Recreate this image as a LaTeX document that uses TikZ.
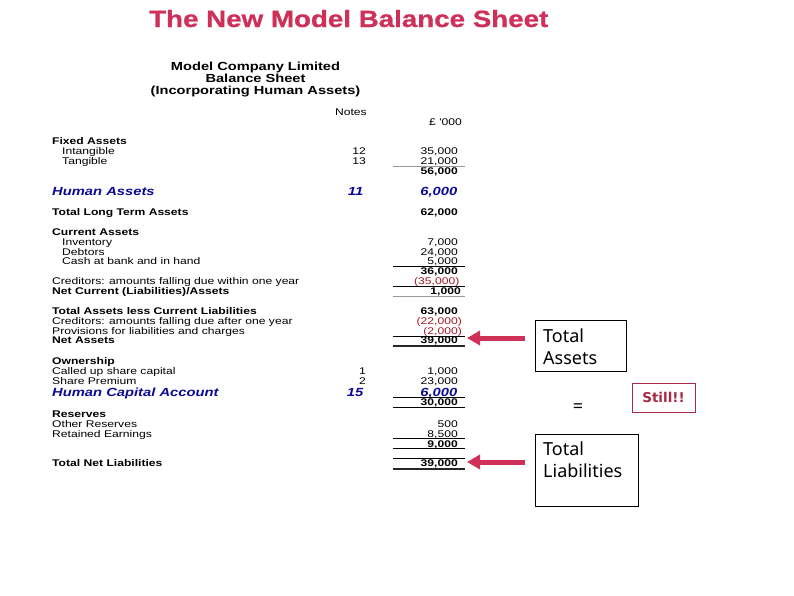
\documentclass[tikz,border=0pt]{standalone}
\usepackage{fontspec}
\setmainfont{Liberation Sans}
\newfontfamily\sheetfont[FakeStretch=1.25]{Liberation Sans}
\newfontfamily\titlefont[FakeStretch=1.18,BoldFeatures={FakeBold=0.8}]{Liberation Sans}
\newfontfamily\boxfont{Noto Sans}
\newfontfamily\stillfont{DejaVu Sans}
\definecolor{crimson}{RGB}{206,48,88}
\definecolor{navyblue}{RGB}{10,10,150}
\definecolor{negred}{RGB}{165,25,40}
\definecolor{stillred}{RGB}{170,40,70}
\tikzset{
  cell/.style={inner sep=0pt,font=\sheetfont\fontsize{9.7}{11}\selectfont,text=black},
  lefttext/.style={cell,anchor=base west},
  righttext/.style={cell,anchor=base east},
  heavy/.style={font=\sheetfont\bfseries\fontsize{9.7}{11}\selectfont},
  human/.style={font=\sheetfont\bfseries\itshape\fontsize{11.8}{13}\selectfont,text=navyblue},
  neg/.style={text=negred},
  rulethin/.style={draw=black,line width=0.8pt},
  rulegray/.style={draw=gray!80,line width=0.8pt},
  rulethick/.style={draw=black!85,line width=1.5pt},
  callout/.style={draw=black,line width=0.8pt,anchor=north west,inner sep=0pt},
  boxtext/.style={inner sep=0pt,anchor=base west,font=\boxfont\fontsize{18}{21}\selectfont},
  pointer/.style={draw=crimson,line width=5pt,-{Triangle[length=13pt,width=14pt]}},
}
\usetikzlibrary{arrows.meta}
\begin{document}
\begin{tikzpicture}[x=1pt,y=-1pt]
\useasboundingbox (0,0) rectangle (794,595);
\node[inner sep=0pt,anchor=base west,text=crimson,font=\titlefont\bfseries\fontsize{23.5}{26}\selectfont] (title) at (149,27) {The New Model Balance Sheet};
\node[cell,align=center,anchor=north,font=\sheetfont\bfseries\fontsize{11.7}{12.1}\selectfont] (heading) at (255.5,61.5) {Model Company Limited\\Balance Sheet\\(Incorporating Human Assets)};
\node[righttext] (notes) at (367,115) {Notes};
\node[righttext] (unit) at (462,125) {£ '000};
% left column
\node[lefttext,heavy] (l1) at (52,144.5) {Fixed Assets};
\node[lefttext] (l2) at (62,154.5) {Intangible};
\node[lefttext] (l3) at (62,164.5) {Tangible};
\node[lefttext,human] (l4) at (52,195.5) {Human Assets};
\node[lefttext,heavy] (l5) at (52,215.5) {Total Long Term Assets};
\node[lefttext,heavy] (l6) at (52,235.5) {Current Assets};
\node[lefttext] (l7) at (62,245) {Inventory};
\node[lefttext] (l8) at (62,255) {Debtors};
\node[lefttext] (l9) at (62,264.5) {Cash at bank and in hand};
\node[lefttext] (l10) at (52,284.5) {Creditors: amounts falling due within one year};
\node[lefttext,heavy] (l11) at (52,294.5) {Net Current (Liabilities)/Assets};
\node[lefttext,heavy] (l12) at (52,314.5) {Total Assets less Current Liabilities};
\node[lefttext] (l13) at (52,324) {Creditors: amounts falling due after one year};
\node[lefttext] (l14) at (52,334) {Provisions for liabilities and charges};
\node[lefttext,heavy] (l15) at (52,343.5) {Net Assets};
\node[lefttext,heavy] (l16) at (52,364.5) {Ownership};
\node[lefttext] (l17) at (52,374.5) {Called up share capital};
\node[lefttext] (l18) at (52,384.5) {Share Premium};
\node[lefttext,human] (l19) at (52,396) {Human Capital Account};
\node[lefttext,heavy] (l20) at (52,417) {Reserves};
\node[lefttext] (l21) at (52,427.5) {Other Reserves};
\node[lefttext] (l22) at (52,437) {Retained Earnings};
\node[lefttext,heavy] (l23) at (52,466.5) {Total Net Liabilities};
% notes column
\node[righttext] (n1) at (366,154.5) {12};
\node[righttext] (n2) at (366,164.5) {13};
\node[righttext,human] (n3) at (363.5,195.5) {11};
\node[righttext] (n4) at (366,374.5) {1};
\node[righttext] (n5) at (366,384.5) {2};
\node[righttext,human] (n6) at (363.5,396) {15};
% amounts column
\node[righttext] (a1) at (458,154.5) {35,000};
\node[righttext] (a2) at (458,164.5) {21,000};
\node[righttext,heavy] (a3) at (458,174.5) {56,000};
\node[righttext,human] (a4) at (457.5,195.5) {6,000};
\node[righttext,heavy] (a5) at (458,215.5) {62,000};
\node[righttext] (a6) at (458,245) {7,000};
\node[righttext] (a7) at (458,255) {24,000};
\node[righttext] (a8) at (458,264.5) {5,000};
\node[righttext,heavy] (a9) at (458,274.5) {36,000};
\node[righttext,neg] (a10) at (459.5,284.5) {(35,000)};
\node[righttext,heavy] (a11) at (461,294.5) {1,000};
\node[righttext,heavy] (a12) at (458,314.5) {63,000};
\node[righttext,neg] (a13) at (462,324) {(22,000)};
\node[righttext,neg] (a14) at (462,334) {(2,000)};
\node[righttext,heavy] (a15) at (458,343.5) {39,000};
\node[righttext] (a16) at (458,374.5) {1,000};
\node[righttext] (a17) at (458,384.5) {23,000};
\node[righttext,human] (a18) at (457.5,396) {6,000};
\node[righttext,heavy] (a19) at (458,405.5) {30,000};
\node[righttext] (a20) at (458,427.5) {500};
\node[righttext] (a21) at (458,437) {8,500};
\node[righttext,heavy] (a22) at (458,447) {9,000};
\node[righttext,heavy] (a23) at (458,466.5) {39,000};
% rules
\foreach \yy in {266,286,336,397,407,438,448,458}
  \draw[rulethin] (393,\yy) -- (465,\yy);
\foreach \yy in {166,296}
  \draw[rulegray] (393,\yy) -- (465,\yy);
\foreach \yy in {346,469}
  \draw[rulethick] (393,\yy) -- (465,\yy);
% callouts
\node[callout,minimum width=91pt,minimum height=51pt] (assets) at (535,320) {};
\node[boxtext] (assetsA) at (543,342) {Total};
\node[boxtext] (assetsB) at (543,364) {Assets};
\node[callout,minimum width=102.5pt,minimum height=72pt] (liab) at (535,434) {};
\node[boxtext] (liabA) at (543,455) {Total};
\node[boxtext] (liabB) at (543,477) {Liabilities};
\node[boxtext,anchor=center] (equals) at (578,408) {=};
\node[draw=stillred,line width=0.7pt,text=stillred,inner sep=0pt,minimum width=63pt,minimum height=29pt,font=\stillfont\bfseries\fontsize{13.5}{15}\selectfont] (still) at (663.5,397.5) {Still!!};
% pointers
\coordinate (p1s) at (525,338);
\coordinate (p1e) at (467,338);
\coordinate (p2s) at (525,462);
\coordinate (p2e) at (467,462);
\draw[pointer] (p1s) -- (p1e);
\draw[pointer] (p2s) -- (p2e);
\end{tikzpicture}
\end{document}
